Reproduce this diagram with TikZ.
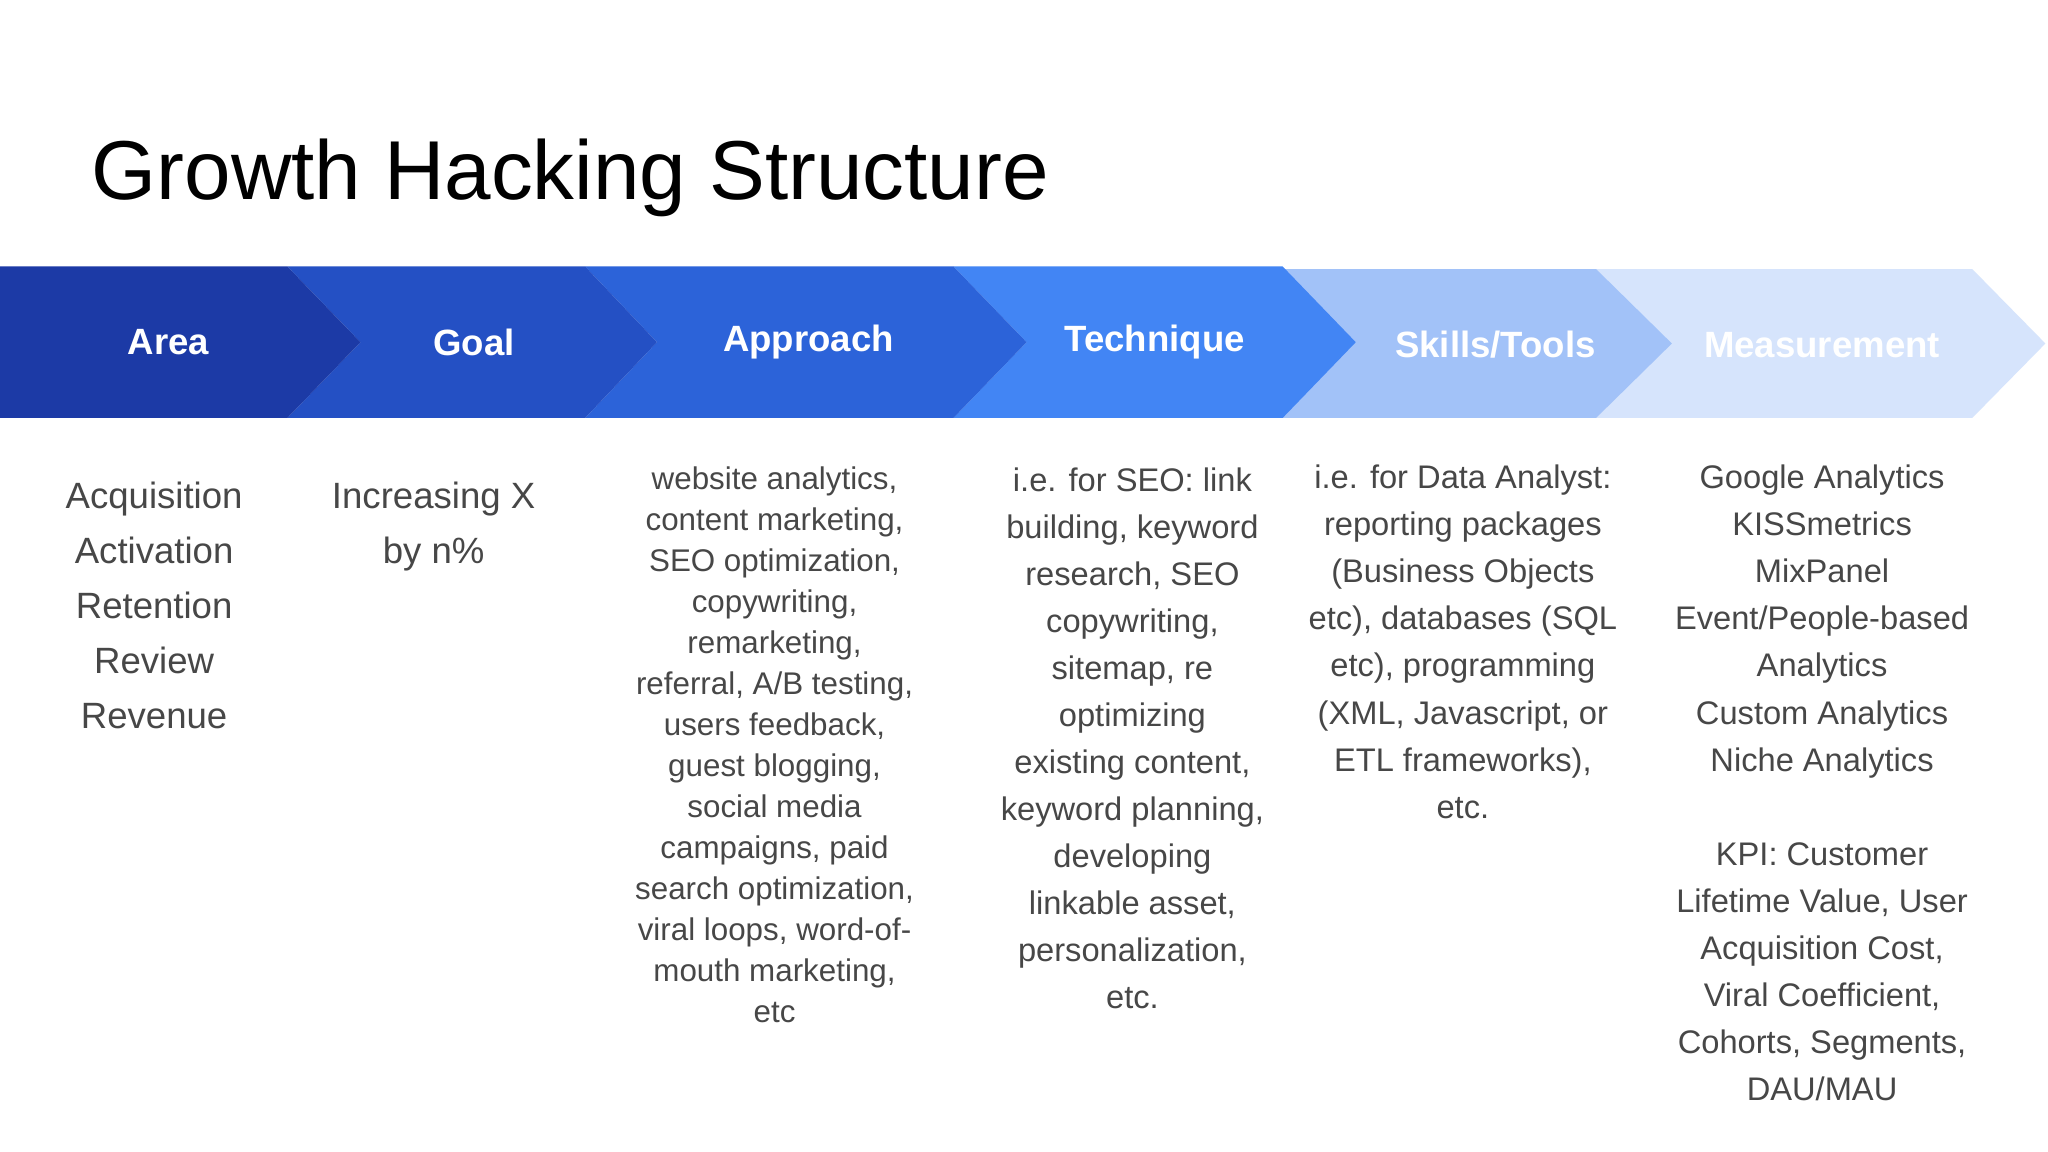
\documentclass[tikz,border=0pt]{standalone}
\usepackage{fontspec}
\setmainfont{Liberation Sans}
\begin{document}
\begin{tikzpicture}[x=1pt,y=-1pt,
  lab/.style={text=white,font=\bfseries\fontsize{28}{30}\selectfont,anchor=center},
  body/.style={text=black!72,align=center,anchor=north,inner sep=0pt}]
\useasboundingbox[fill=white] (0,0) rectangle (1568,882);
\definecolor{c1}{HTML}{1C3AA6}\definecolor{c2}{HTML}{2450C4}
\definecolor{c3}{HTML}{2C63D9}\definecolor{c4}{HTML}{4285F4}
\definecolor{c5}{HTML}{A2C2F8}\definecolor{c6}{HTML}{D6E4FC}
\node[anchor=base west,inner sep=0pt,font=\fontsize{64}{70}\selectfont] (title) at (70,153) {Growth Hacking Structure};
\fill[c6] (1222,206) -- (1510,206) -- (1566,263) -- (1510,320) -- (1222,320) -- (1278,263) -- cycle;
\fill[c5] (976,206) -- (1222,206) -- (1280,263) -- (1222,320) -- (976,320) -- (1034,263) -- cycle;
\fill[c4] (730,204) -- (982,204) -- (1038,262) -- (982,320) -- (730,320) -- (786,262) -- cycle;
\fill[c3] (448,204) -- (730,204) -- (786,262) -- (730,320) -- (448,320) -- (503,262) -- cycle;
\fill[c2] (220,204) -- (448,204) -- (503,262) -- (448,320) -- (220,320) -- (276,262) -- cycle;
\fill[c1] (0,204) -- (220,204) -- (276,262) -- (220,320) -- (0,320) -- cycle;
\node[lab] (h1) at (129,262) {Area};
\node[lab] (h2) at (363,262) {Goal};
\node[lab] (h3) at (619,262) {Approach};
\node[lab] (h4) at (884,262) {Technique};
\node[lab] (h5) at (1145,264) {Skills/Tools};
\node[lab] (h6) at (1395,264) {Measurement};
\node[body,font=\fontsize{28}{42}\selectfont] (b1) at (118,369) {Acquisition\\Activation\\Retention\\Review\\Revenue};
\node[body,font=\fontsize{28}{42}\selectfont] (b2) at (332,369) {Increasing X\\by n\%};
\node[body,font=\fontsize{24}{31.4}\selectfont] (b3) at (593,357) {website analytics,\\content marketing,\\SEO optimization,\\copywriting,\\remarketing,\\referral, A/B testing,\\users feedback,\\guest blogging,\\social media\\campaigns, paid\\search optimization,\\viral loops, word-of-\\mouth marketing,\\etc};
\node[body,font=\fontsize{25}{36}\selectfont] (b4) at (867,358) {i.e. for SEO: link\\building, keyword\\research, SEO\\copywriting,\\sitemap, re\\optimizing\\existing content,\\keyword planning,\\developing\\linkable asset,\\personalization,\\etc.};
\node[body,font=\fontsize{25}{36}\selectfont] (b5) at (1120,356) {i.e. for Data Analyst:\\reporting packages\\(Business Objects\\etc), databases (SQL\\etc), programming\\(XML, Javascript, or\\ETL frameworks),\\etc.};
\node[body,font=\fontsize{25}{36}\selectfont] (b6) at (1395,356) {Google Analytics\\KISSmetrics\\MixPanel\\Event/People-based\\Analytics\\Custom Analytics\\Niche Analytics\\[36pt]KPI: Customer\\Lifetime Value, User\\Acquisition Cost,\\Viral Coefficient,\\Cohorts, Segments,\\DAU/MAU};
\end{tikzpicture}
\end{document}
